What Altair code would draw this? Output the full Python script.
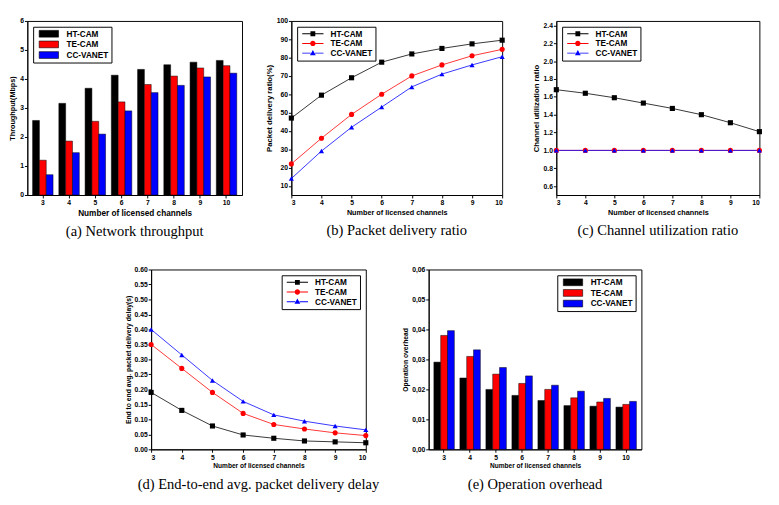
import altair as alt
import pandas as pd

channels = [3, 4, 5, 6, 7, 8, 9, 10]
series = ["HT-CAM", "TE-CAM", "CC-VANET"]
colors = ["#000000", "#ff0000", "#0000ff"]
shapes = ["square", "circle", "triangle-up"]

# (a) Network throughput (Mbps)
thr_ht = [2.57, 3.16, 3.68, 4.13, 4.33, 4.49, 4.58, 4.64]
thr_te = [1.20, 1.86, 2.54, 3.21, 3.81, 4.10, 4.38, 4.46]
thr_cc = [0.70, 1.46, 2.10, 2.90, 3.53, 3.78, 4.07, 4.20]
thr_ticks = [0, 1, 2, 3, 4, 5, 6]

# (b) Packet delivery ratio (%)
pdr_ht = [47, 59.5, 69, 77.5, 82, 85, 87.5, 89.5]
pdr_te = [22, 36, 49, 60, 70, 76, 81, 84.5]
pdr_cc = [14, 29, 42, 53, 64, 71, 76, 80.5]
pdr_ticks = [10, 20, 30, 40, 50, 60, 70, 80, 90, 100]

# (c) Channel utilization ratio
cur_ht = [1.68, 1.64, 1.59, 1.53, 1.47, 1.40, 1.31, 1.21]
cur_te = [1.0, 1.0, 1.0, 1.0, 1.0, 1.0, 1.0, 1.0]
cur_cc = [1.0, 1.0, 1.0, 1.0, 1.0, 1.0, 1.0, 1.0]
cur_ticks = [0.6, 0.8, 1.0, 1.2, 1.4, 1.6, 1.8, 2.0, 2.2, 2.4]

# (d) End-to-end avg. packet delivery delay (s)
del_ht = [0.19, 0.13, 0.078, 0.048, 0.037, 0.028, 0.025, 0.022]
del_te = [0.35, 0.27, 0.19, 0.12, 0.083, 0.068, 0.055, 0.046]
del_cc = [0.40, 0.315, 0.23, 0.16, 0.115, 0.094, 0.078, 0.065]
del_ticks = [0, 0.05, 0.10, 0.15, 0.20, 0.25, 0.30, 0.35, 0.40, 0.45, 0.50, 0.55, 0.60]

# (e) Operation overhead
ovh_ht = [0.0291, 0.0238, 0.0200, 0.0180, 0.0163, 0.0146, 0.0144, 0.0141]
ovh_te = [0.0380, 0.0310, 0.0251, 0.0220, 0.0200, 0.0172, 0.0158, 0.0150]
ovh_cc = [0.0396, 0.0332, 0.0273, 0.0245, 0.0214, 0.0194, 0.0170, 0.0160]
ovh_ticks = [0, 0.01, 0.02, 0.03, 0.04, 0.05, 0.06]

XTITLE = "Number of licensed channels"

# legend glyphs: line segment + marker (line charts), flat rectangle (bar charts)
SEG = "M-4.4,-0.2H-0.9V0.2H-4.4Z M0.9,-0.2H4.4V0.2H0.9Z "
legend_paths = [
    SEG + "M-1,-1H1V1H-1Z",
    SEG + "M-1.1,0A1.1,1.1 0 1,1 1.1,0A1.1,1.1 0 1,1 -1.1,0Z",
    SEG + "M0,-1.25L1.2,0.9H-1.2Z",
]
BAR_SYMBOL = "M-4,-1.4H4V1.4H-4Z"


def long_df(vals):
    rows = []
    for s, vv in zip(series, vals):
        for c, v in zip(channels, vv):
            rows.append({"ch": c, "series": s, "v": v})
    return pd.DataFrame(rows)


def caption(text):
    return alt.TitleParams(text, orient="bottom", anchor="middle", font="Liberation Serif",
                           fontSize=15, fontWeight="normal", color="black", offset=8)


def legend(orient, symbol_type=None):
    kw = dict(title=None, orient=orient, offset=6, strokeColor="black", fillColor="white",
              padding=3, rowPadding=1, symbolSize=25, symbolOffset=9, labelOffset=14,
              labelFontSize=8.5, labelFont="Liberation Sans", labelFontWeight="bold",
              symbolOpacity=1, symbolStrokeWidth=0)
    if symbol_type:
        kw["symbolType"] = symbol_type
        kw["symbolStrokeColor"] = "black"
        kw["symbolStrokeWidth"] = 0.6
    return alt.Legend(**kw)


def bar_chart(vals, ytitle, domain, ticks, label_expr, orient, cap, w, h, xts, yts):
    df = long_df(vals)
    return alt.Chart(df).mark_bar(stroke="black", strokeWidth=0.5).encode(
        x=alt.X("ch:O", title=XTITLE, axis=alt.Axis(labelAngle=0, titleFontSize=xts),
                scale=alt.Scale(paddingInner=0.22, paddingOuter=0.2)),
        xOffset=alt.XOffset("series:N", sort=series),
        y=alt.Y("v:Q", title=ytitle, scale=alt.Scale(domain=domain, nice=False, zero=True),
                axis=alt.Axis(values=ticks, labelExpr=label_expr, titleFontSize=yts)),
        color=alt.Color("series:N", sort=series, scale=alt.Scale(domain=series, range=colors),
                        legend=legend(orient, BAR_SYMBOL)),
    ).properties(width=w, height=h, title=caption(cap))


def line_chart(vals, ytitle, domain, ticks, fmt, orient, cap, w, h, xts, yts):
    df = long_df(vals)
    x = alt.X("ch:Q", title=XTITLE, scale=alt.Scale(domain=[3, 10], nice=False, zero=False),
              axis=alt.Axis(values=channels, format="d", titleFontSize=xts))
    y = alt.Y("v:Q", title=ytitle, scale=alt.Scale(domain=domain, nice=False, zero=False),
              axis=alt.Axis(values=ticks, format=fmt, titleFontSize=yts))
    col = alt.Color("series:N", sort=series, scale=alt.Scale(domain=series, range=colors),
                    legend=legend(orient))
    shp = alt.Shape("series:N", sort=series, scale=alt.Scale(domain=series, range=legend_paths),
                    legend=legend(orient))
    line = alt.Chart(df).mark_line(strokeWidth=0.8).encode(x=x, y=y, color=col, detail="series:N")
    key = alt.Chart(df).mark_point(filled=True, size=25, opacity=0).encode(x=x, y=y, color=col, shape=shp)
    layers = [line, key]
    for s, sh in zip(series, shapes):
        layers.append(
            alt.Chart(df).transform_filter(alt.datum.series == s).mark_point(
                filled=True, size=28, opacity=1, shape=sh
            ).encode(x=x, y=y, color=col)
        )
    return alt.layer(*layers).properties(width=w, height=h, title=caption(cap))


a = bar_chart([thr_ht, thr_te, thr_cc], "Throughput(Mbps)", [0, 6], thr_ticks,
              "format(datum.value, 'd')", "top-left", "(a) Network throughput", 222, 180, 8.5, 7.5)
b = line_chart([pdr_ht, pdr_te, pdr_cc], "Packet delivery ratio(%)", [5, 100], pdr_ticks, "d",
               "top-left", "(b) Packet delivery ratio", 218, 180, 7.5, 8)
c = line_chart([cur_ht, cur_te, cur_cc], "Channel utilization ratio", [0.5, 2.45], cur_ticks, ".1f",
               "top-left", "(c) Channel utilization ratio", 210, 180, 7.5, 8)
d = line_chart([del_ht, del_te, del_cc], "End to end avg. packet delivery delay(s)", [0, 0.6], del_ticks,
               ".2f", "top-right", "(d) End-to-end avg. packet delivery delay", 222, 186, 6.8, 7)
e = bar_chart([ovh_ht, ovh_te, ovh_cc], "Operation overhead", [0, 0.06], ovh_ticks,
              "replace(format(datum.value, '.2f'), '.', ',')", "top-right", "(e) Operation overhead",
              220, 186, 6.8, 7)

spacer = alt.Chart(pd.DataFrame({"z": [0]})).mark_point(opacity=0).encode(
    x=alt.X("z:Q", axis=None), y=alt.Y("z:Q", axis=None)
).properties(width=78, height=10, view=alt.ViewBackground(strokeOpacity=0))

ab = alt.hconcat(a, b, spacing=22).resolve_scale(color="independent", shape="independent")
top = alt.hconcat(ab, c, spacing=18).resolve_scale(color="independent", shape="independent")
bottom = alt.hconcat(spacer, d, e, spacing=21).resolve_scale(color="independent", shape="independent")

chart = alt.vconcat(top, bottom, spacing=26).resolve_scale(
    color="independent", shape="independent"
).properties(padding=0, background="white").configure_view(
    stroke="black", strokeWidth=1
).configure_axis(
    grid=False, domainColor="black", tickColor="black", labelColor="black", titleColor="black",
    labelFont="Liberation Sans", titleFont="Liberation Sans", labelFontSize=7, titleFontSize=8,
    labelFontWeight="bold", titleFontWeight="bold", tickSize=3, labelPadding=1, titlePadding=3
)

chart.save("out.html", embed_options={"renderer": "svg", "actions": False})
